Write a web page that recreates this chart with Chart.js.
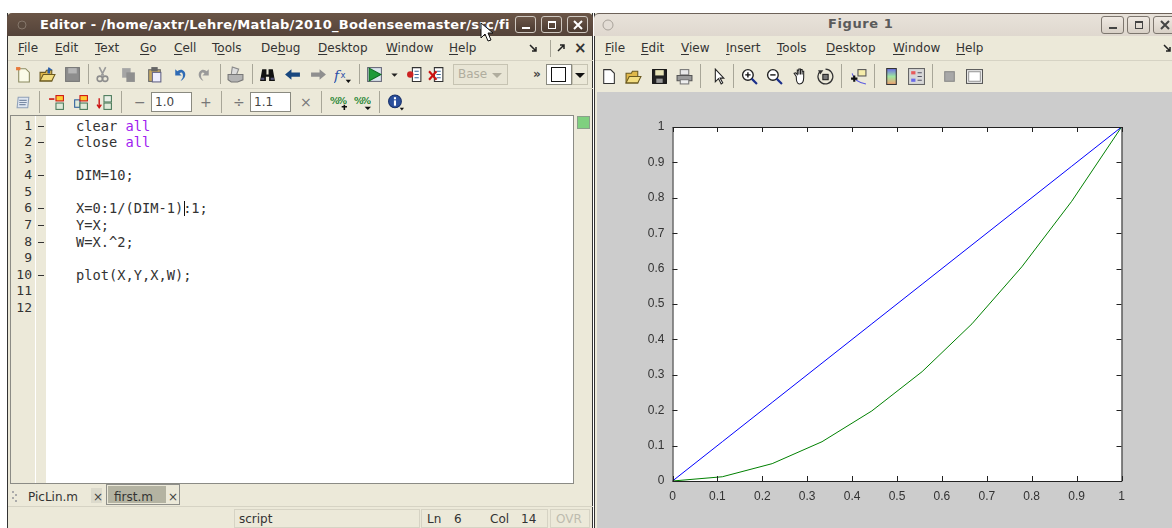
<!DOCTYPE html>
<html>
<head>
<meta charset="utf-8">
<title>Editor and Figure 1</title>
<script src="https://cdn.jsdelivr.net/npm/chart.js@4"></script>
<style>
  html, body { margin: 0; padding: 0; background: #fff; overflow: hidden; }
  #app { position: relative; width: 1172px; height: 528px; overflow: hidden; font-family: "DejaVu Sans", sans-serif; color: #2e2e2e; filter: blur(0.3px); }
  #app div, #app span { position: absolute; white-space: pre; }
  #app u { text-decoration: underline; text-underline-offset: 2px; }
  #app svg { position: absolute; }
  .menu { font-size: 12px; line-height: 14px; top: 41px; color: #333; }
  .code { font-family: "DejaVu Sans Mono", monospace; font-size: 13.7px; line-height: 16px; left: 76px; color: #333; }
  .num { font-family: "DejaVu Sans Mono", monospace; font-size: 13px; line-height: 16px; width: 24px; left: 8px; text-align: right; color: #333; }
  .kw { position: static !important; color: #a020f0; }
  .tb { font-size: 12px; line-height: 16px; color: #444; }
  #plot-wrap { left: 597px; top: 92px; width: 575px; height: 436px; }
</style>
</head>
<body>
<div id="app"></div>
<script>
// values
const X = [0, 0.111, 0.222, 0.333, 0.444, 0.556, 0.667, 0.778, 0.889, 1];
const Y = [0, 0.111, 0.222, 0.333, 0.444, 0.556, 0.667, 0.778, 0.889, 1];
const W = [0, 0.012, 0.049, 0.111, 0.198, 0.309, 0.444, 0.605, 0.79, 1];
const xTickLabels = ["0", "0.1", "0.2", "0.3", "0.4", "0.5", "0.6", "0.7", "0.8", "0.9", "1"];
const yTickLabels = ["0", "0.1", "0.2", "0.3", "0.4", "0.5", "0.6", "0.7", "0.8", "0.9", "1"];

const editorMenus = [["<u>F</u>ile", 18], ["<u>E</u>dit", 55], ["<u>T</u>ext", 95], ["<u>G</u>o", 140], ["<u>C</u>ell", 174], ["T<u>o</u>ols", 212], ["De<u>b</u>ug", 261], ["<u>D</u>esktop", 318], ["<u>W</u>indow", 386], ["<u>H</u>elp", 449]];
const figureMenus = [["<u>F</u>ile", 605], ["<u>E</u>dit", 641], ["<u>V</u>iew", 681], ["<u>I</u>nsert", 726], ["<u>T</u>ools", 777], ["<u>D</u>esktop", 826], ["<u>W</u>indow", 893], ["<u>H</u>elp", 956]];
const codeLines = [
  'clear <span class="kw">all</span>',
  'close <span class="kw">all</span>',
  "",
  "DIM=10;",
  "",
  "X=0:1/(DIM-1):1;",
  "Y=X;",
  "W=X.^2;",
  "",
  "plot(X,Y,X,W);",
  "",
  ""
];
const executableLines = [1, 2, 4, 6, 7, 8, 10];

const app = document.getElementById("app");

function box(x, y, w, h, style, html) {
  const el = document.createElement("div");
  el.style.cssText = `left:${x}px;top:${y}px;width:${w}px;height:${h}px;${style || ""}`;
  if (html) el.innerHTML = html;
  app.appendChild(el);
  return el;
}

function text(x, y, str, cls, style) {
  const el = document.createElement("div");
  el.className = cls || "";
  el.style.cssText = `left:${x}px;top:${y}px;${style || ""}`;
  el.innerHTML = str;
  app.appendChild(el);
  return el;
}

// cx, cy is the icon's centre, the svg viewBox is 16x16
function icon(cx, cy, inner, size) {
  const s = size || 17;
  const holder = document.createElement("div");
  holder.style.cssText = `left:${cx - s / 2}px;top:${cy - s / 2}px;width:${s}px;height:${s}px;`;
  holder.innerHTML = `<svg width="${s}" height="${s}" viewBox="0 0 16 16" style="left:0;top:0">${inner}</svg>`;
  app.appendChild(holder);
}

function sep(x, y, h) {
  box(x, y, 1, h, "background:#a8a698;");
}

function winButton(x, y, w, h, glyph, dark) {
  const bg = dark ? "linear-gradient(#6b5648,#4a3a30)" : "linear-gradient(#efe9e2,#d8d0c6)";
  const line = dark ? "#cfc8c0" : "#7d766e";
  box(x, y, w, h, `background:${bg};border:1px solid ${line};border-radius:3px;box-sizing:border-box;`);
  const fg = dark ? "#fff" : "#444";
  const cx = x + w / 2, cy = y + h / 2;
  if (glyph === "min") icon(cx, cy, `<rect x="4" y="10" width="8" height="2" fill="${fg}"/>`, 16);
  if (glyph === "max") icon(cx, cy, `<rect x="4.5" y="4.5" width="7" height="7" fill="none" stroke="${fg}"/><rect x="4" y="4" width="8" height="2" fill="${fg}"/>`, 16);
  if (glyph === "close") icon(cx, cy, `<path d="M4 4L12 12M12 4L4 12" stroke="${fg}" stroke-width="2"/>`, 16);
}

const ICONS = {
  page: '<path d="M3.5 1.5H10L13.5 5V14.5H3.5Z" fill="#fff" stroke="#333"/>',
  pageNew: '<path d="M3.5 2.5H10L13.5 6V15H3.5Z" fill="#fbfbe8" stroke="#8a8a60"/><rect x="1" y="1" width="4" height="3" fill="#e8793a"/>',
  open: '<path d="M1 5H6L7 3H12V14H1Z" fill="#e0b84a" stroke="#6b5a20"/><path d="M1 14L4 8H15L12 14Z" fill="#f3dd80" stroke="#6b5a20"/>',
  openBlue: '<path d="M1 6H6L7 4H12V14H1Z" fill="#e0b84a" stroke="#6b5a20"/><path d="M1 14L4 8H15L12 14Z" fill="#f3dd80" stroke="#6b5a20"/><path d="M9 1L13 4H10.500V7H8V4Z" fill="#2b5fa8"/>',
  saveGrey: '<rect x="1.500" y="1.500" width="13" height="13" fill="#8d8d8d" stroke="#777"/><rect x="4" y="2" width="8" height="5" fill="#b5b5b5"/>',
  save: '<rect x="1.500" y="1.500" width="13" height="13" fill="#222" stroke="#111"/><rect x="4" y="2" width="8" height="5" fill="#e8e4b8"/><rect x="5" y="10" width="6" height="4" fill="#999"/>',
  cut: '<path d="M5 1L9 9M11 1L7 9" stroke="#9a9a9a" stroke-width="1.500"/><circle cx="5.500" cy="12" r="2.500" fill="none" stroke="#8d8d8d" stroke-width="1.500"/><circle cx="10.500" cy="12" r="2.500" fill="none" stroke="#8d8d8d" stroke-width="1.500"/>',
  copy: '<rect x="2" y="2" width="8" height="9" fill="#a5a5a5"/><rect x="6" y="6" width="8" height="9" fill="#8f8f8f"/>',
  paste: '<rect x="2.500" y="3.500" width="11" height="11" fill="#c6a860" stroke="#6b6b6b"/><rect x="5" y="1" width="6" height="4" fill="#666"/><rect x="6" y="6" width="8" height="9" fill="#eef" stroke="#668"/>',
  undo: '<path d="M4 3V9H10L8 7C10 5 12 7 11 11L9 14C14 12 15 6 11 4C9 3 7 4 6 5Z" fill="#2f6bb5"/>',
  redo: '<path d="M12 3V9H6L8 7C6 5 4 7 5 11L7 14C2 12 1 6 5 4C7 3 9 4 10 5Z" fill="#9a9a9a"/>',
  print: '<rect x="4" y="1.500" width="8" height="5" fill="#e8e8e8" stroke="#777"/><path d="M1 7H15V12H1Z" fill="#9a9a9a" stroke="#555"/><rect x="4" y="11" width="8" height="4" fill="#eee" stroke="#777"/>',
  printFaded: '<path d="M5 1L11 3L9 8H4Z" fill="#ddd" stroke="#888"/><path d="M1 8H15V13L10 15H4L1 13Z" fill="#b4b4b4" stroke="#777"/>',
  binoculars: '<path d="M1 14L3 3H7V8H9V3H13L15 14H9.500V10H6.500V14Z" fill="#111"/><rect x="2" y="11" width="3" height="2" fill="#557"/><rect x="11" y="11" width="3" height="2" fill="#557"/>',
  back: '<path d="M1 8L7 3V6H15V10H7V13Z" fill="#18477f"/>',
  fwd: '<path d="M15 8L9 3V6H1V10H9V13Z" fill="#8f8f8f"/>',
  fx: '<text x="0" y="13" font-family="DejaVu Serif" font-style="italic" font-size="13" fill="#2c4fa8">f</text><text x="6" y="11" font-family="DejaVu Sans" font-size="8" fill="#2c4fa8">x</text><path d="M11 13L16 13L13.500 16Z" fill="#111"/>',
  run: '<rect x="1.500" y="1.500" width="13" height="13" fill="#dce6ee" stroke="#667"/><path d="M3 2L14 8L3 14Z" fill="#1f9a3a" stroke="#0d6a20"/>',
  drop: '<path d="M5 7H11L8 10Z" fill="#222"/>',
  bpSet: '<path d="M6 1.500H14V14.500H6Z" fill="#fff" stroke="#333"/><path d="M8 5H12M8 8H12M8 11H12" stroke="#3a6a9a"/><circle cx="4" cy="8" r="3" fill="#c22"/>',
  bpClear: '<path d="M6 1.500H14V14.500H6Z" fill="#fff" stroke="#333"/><path d="M8 5H12M8 8H12M8 11H12" stroke="#3a6a9a"/><path d="M1 5L8 13M8 5L1 13" stroke="#c11" stroke-width="2"/>',
  comment: '<path d="M3 3H13L12 13H2Z" fill="#dfe6f0" stroke="#8fa0b8"/><path d="M4 6H11M4 8H11M4 10H10" stroke="#7a8ba5"/>',
  cellA: '<rect x="1" y="4" width="5" height="1.500" fill="#c11"/><rect x="7.500" y="1.500" width="7" height="5" fill="#fc3" stroke="#c11"/><rect x="7.500" y="8.500" width="7" height="6" fill="#dfe9d8" stroke="#4a7a5a"/>',
  cellB: '<rect x="2.500" y="5.500" width="5" height="7" fill="#dfe9d8" stroke="#2c5f9c"/><rect x="7.500" y="1.500" width="7" height="5" fill="#fc3" stroke="#c11"/><rect x="7.500" y="8.500" width="7" height="6" fill="#dfe9d8" stroke="#4a7a5a"/>',
  cellC: '<path d="M3 4V12M1 10L3 13L5 10" stroke="#c11" fill="none" stroke-width="1.300"/><rect x="7.500" y="1.500" width="7" height="6" fill="#e8efe6" stroke="#4a7a5a"/><rect x="7.500" y="8.500" width="7" height="6" fill="#dfe9d8" stroke="#4a7a5a"/>',
  pctPlus: '<text x="0" y="9" font-family="DejaVu Sans" font-weight="bold" font-size="9" fill="#2f8a3a">%</text><text x="7" y="9" font-family="DejaVu Sans" font-weight="bold" font-size="9" fill="#2f8a3a">%</text><path d="M11 12H16M13.500 10V15" stroke="#111" stroke-width="1.500"/>',
  pctDrop: '<text x="0" y="9" font-family="DejaVu Sans" font-weight="bold" font-size="9" fill="#2f8a3a">%</text><text x="7" y="9" font-family="DejaVu Sans" font-weight="bold" font-size="9" fill="#2f8a3a">%</text><path d="M10 12H16L13 15Z" fill="#111"/>',
  info: '<circle cx="7.500" cy="7" r="6" fill="#2a4f9c" stroke="#17306a"/><rect x="6.500" y="6" width="2" height="5" fill="#fff"/><rect x="6.500" y="3" width="2" height="2" fill="#fff"/><path d="M12 13H16L14 15.500Z" fill="#111"/>',
  pointer: '<path d="M5 1V13L8 10L10.500 15L12 14L9.500 9.500H13Z" fill="#fff" stroke="#222"/>',
  zoomIn: '<circle cx="6.500" cy="6.500" r="5" fill="#fff" stroke="#222" stroke-width="1.300"/><path d="M4 6.500H9M6.500 4V9" stroke="#111" stroke-width="1.300"/><path d="M10 10L15 15" stroke="#1a2f8a" stroke-width="2"/>',
  zoomOut: '<circle cx="6.500" cy="6.500" r="5" fill="#fff" stroke="#222" stroke-width="1.300"/><path d="M4 6.500H9" stroke="#111" stroke-width="1.300"/><path d="M10 10L15 15" stroke="#1a2f8a" stroke-width="2"/>',
  hand: '<path d="M4 8L2 5L3.500 4.500L5 6V2H6.500V6V1H8V6V1.500H9.500V6V3H11V9C11 12 10 15 7 15C5 15 4 12 4 8Z" fill="#fff" stroke="#222"/>',
  rotate: '<path d="M3 3A7 7 0 1 0 8 1" fill="none" stroke="#333" stroke-width="1.200"/><path d="M1 2L6 2L3 6Z" fill="#333"/><rect x="5.500" y="6" width="5" height="5" fill="#777" stroke="#222"/>',
  datatip: '<rect x="7.500" y="1.500" width="7.500" height="6" fill="#f5ecaa" stroke="#555"/><path d="M2 5Q4 13 15 15" fill="none" stroke="#5a5ae0"/><path d="M1 10H7M4 7V13" stroke="#111" stroke-width="2"/>',
  colorbar: '<defs><linearGradient id="cb" x1="0" y1="0" x2="0" y2="1"><stop offset="0" stop-color="#6a6ae8"/><stop offset=".5" stop-color="#9fe6a0"/><stop offset="1" stop-color="#f2a070"/></linearGradient></defs><rect x="3.500" y="0.500" width="9" height="15" fill="url(#cb)" stroke="#333"/>',
  legend: '<rect x="0.500" y="0.500" width="15" height="15" fill="#d8d8d8" stroke="#666"/><rect x="3" y="3" width="4" height="3" fill="#e85a5a"/><rect x="3" y="10" width="4" height="3" fill="#6a6ae8"/><path d="M9 4.500H13M9 11.500H13M9 8H13" stroke="#556"/>',
  greyBox: '<rect x="3.500" y="3.500" width="9" height="9" fill="#a8a8a8" stroke="#888"/>',
  frame: '<rect x="0.500" y="1.500" width="15" height="13" fill="#f2f2f2" stroke="#555"/><rect x="2.500" y="3.500" width="11" height="9" fill="#fff" stroke="#999"/>'
};

// window backgrounds
const CREAM = "#ece9d9";
box(7, 13, 586, 515, `background:${CREAM};border-left:1px solid #333;border-right:1px solid #333;box-sizing:border-box;`);
box(7, 13, 586, 23, "background:linear-gradient(#6a5546,#54433a);border-radius:5px 5px 0 0;");
box(593, 13, 2, 515, "background:#fff;");
box(594, 13, 578, 515, `background:${CREAM};border-left:1px solid #333;box-sizing:border-box;`);
box(594, 13, 578, 23, "background:linear-gradient(#e8e2da,#dfd8cf);border-top:1px solid #6d6259;box-sizing:border-box;border-radius:5px 0 0 0;");

// editor title bar
box(15, 16, 498, 20, "overflow:hidden;", '<span style="left:25px;top:1px;color:#fff;font:bold 13px \'DejaVu Sans\';letter-spacing:.3px">Editor - /home/axtr/Lehre/Matlab/2010_Bodenseemaster/src/fi</span>');
icon(22, 25, '<circle cx="8" cy="8" r="4" fill="#5b4a3e" stroke="#85766a"/>', 16);
winButton(515, 16, 21, 17, "min", true);
winButton(541, 16, 21, 17, "max", true);
winButton(567, 16, 21, 17, "close", true);

// figure title bar
text(828, 16, "Figure 1", "", "font:bold 13px 'DejaVu Sans';line-height:16px;color:#5a5a5a;letter-spacing:.6px");
icon(608, 25, '<circle cx="8" cy="8" r="5" fill="#e3ddd5" stroke="#a8a29a"/>', 16);
winButton(1101, 16, 23, 18, "min", false);
winButton(1127, 16, 23, 18, "max", false);
winButton(1153, 16, 23, 18, "close", false);

// menus
editorMenus.forEach(([label, x]) => text(x, 41, label, "menu"));
figureMenus.forEach(([label, x]) => text(x, 41, label, "menu"));
icon(534, 48, '<path d="M4 5L10 11M10 7V11H6" stroke="#222" stroke-width="1.500" fill="none"/>', 16);
sep(550, 40, 17);
icon(561, 48, '<path d="M11 5L5 11M7 5H11V9" stroke="#222" stroke-width="1.500" fill="none"/>', 16);
text(574, 41, "×", "menu", "font-size:15px;font-weight:bold");
icon(1168, 48, '<path d="M4 5L10 11M10 7V11H6" stroke="#222" stroke-width="1.500" fill="none"/>', 16);

// toolbar borders
box(8, 60, 585, 1, "background:#d6d3c4;");
box(8, 88, 585, 1, "background:#d6d3c4;");
box(595, 60, 577, 1, "background:#d6d3c4;");

// editor toolbar 1
[[23, "pageNew"], [47, "openBlue"], [72, "saveGrey"], [102, "cut"], [128, "copy"], [154, "paste"], [179, "undo"], [204, "redo"], [235, "printFaded"], [267, "binoculars"], [292, "back"], [318, "fwd"], [342, "fx"], [374, "run"], [394, "drop"], [414, "bpSet"], [436, "bpClear"]]
  .forEach(([x, name]) => icon(x, 74, ICONS[name]));
[88, 220, 252, 359].forEach((x) => sep(x, 64, 20));
box(453, 64, 55, 21, "border:1px solid #c6c3b2;box-sizing:border-box;background:#e8e5d5;");
text(458, 66, "Base", "tb", "color:#b0ad9e");
icon(497, 75, '<path d="M3 6H13L8 11Z" fill="#b0ad9e"/>', 16);
text(533, 66, "»", "tb", "font-weight:bold;font-size:12px");
box(546, 64, 26, 21, "background:#fff;border:1px solid #8a8a80;box-sizing:border-box;");
box(551, 67, 15, 15, "border:1.500px solid #111;box-sizing:border-box;background:#fff;");
box(572, 64, 16, 21, "border:1px solid #c6c3b2;box-sizing:border-box;");
icon(580, 75, '<path d="M3 6H13L8 11Z" fill="#111"/>', 16);

// editor toolbar 2
[[23, "comment"], [56, "cellA"], [80, "cellB"], [104, "cellC"], [338, "pctPlus"], [362, "pctDrop"], [395, "info"]]
  .forEach(([x, name]) => icon(x, 102, ICONS[name]));
[39, 121, 221, 321, 379].forEach((x) => sep(x, 91, 22));
text(134, 94, "−", "tb", "font-size:14px;color:#777");
box(151, 92, 41, 20, "background:#fff;border:1px solid #8a8a80;box-sizing:border-box;");
text(155, 94, "1.0", "tb");
text(200, 94, "+", "tb", "font-size:14px;color:#777");
text(233, 94, "÷", "tb", "font-size:14px;color:#777");
box(250, 92, 41, 20, "background:#fff;border:1px solid #8a8a80;box-sizing:border-box;");
text(254, 94, "1.1", "tb");
text(300, 94, "×", "tb", "font-size:14px;color:#777");

// editor pane
box(10, 115, 564, 369, "background:#fff;border:1px solid #8b8b85;box-sizing:border-box;");
box(11, 116, 35, 367, `background:${CREAM};`);
box(35, 116, 1, 367, "background:#fff;");
codeLines.forEach((line, i) => {
  const top = 117.7 + i * 16.55;
  text(8, top, String(i + 1), "num");
  if (executableLines.includes(i + 1)) box(38, top + 8, 6, 1, "background:#333;");
  if (line) text(76, top, line, "code");
});
box(184, 201, 1, 15, "background:#111;");
box(577, 116, 13, 13, "background:#7fd07f;border:1px solid #8aa08a;box-sizing:border-box;");

// tabs and status bar
icon(15, 496, '<path d="M6 3V5M9 6V8M6 9V11M9 12V14" stroke="#aaa" stroke-width="2"/>', 16);
text(28, 489, "PicLin.m", "tb", "color:#333");
box(91, 488, 11, 15, "background:#dcdacc;");
text(93, 489, "×", "tb");
box(106, 484, 74, 21, "border:1px solid #8f8f8a;box-sizing:border-box;");
box(108, 486, 58, 17, "background:#b4b3a2;");
text(114, 489, "first.m", "tb", "color:#333");
text(168, 489, "×", "tb");
box(8, 506, 585, 1, "background:#d6d3c4;");
box(234, 509, 186, 19, "border:1px solid #d6d3c4;box-sizing:border-box;");
text(239, 511, "script", "tb", "color:#333");
box(421, 509, 127, 19, "border:1px solid #d6d3c4;box-sizing:border-box;");
text(427, 511, "Ln", "tb", "color:#333");
text(454, 511, "6", "tb", "color:#333");
text(490, 511, "Col", "tb", "color:#333");
text(521, 511, "14", "tb", "color:#333");
box(550, 509, 40, 19, "border:1px solid #d6d3c4;box-sizing:border-box;");
text(556, 511, "OVR", "tb", "color:#bdbbae");

// figure toolbar
[[608, "page"], [633, "open"], [659, "save"], [684, "print"], [718, "pointer"], [749, "zoomIn"], [774, "zoomOut"], [800, "hand"], [825, "rotate"], [858, "datatip"], [891, "colorbar"], [916, "legend"], [949, "greyBox"], [974, "frame"]]
  .forEach(([x, name]) => icon(x, 76, ICONS[name]));
[700, 733, 841, 874, 932].forEach((x) => sep(x, 64, 24));

// mouse pointer over the title bar
const cursor = document.createElement("div");
cursor.style.cssText = "left:480px;top:22px;width:16px;height:22px;z-index:5;";
cursor.innerHTML = '<svg width="16" height="22" viewBox="0 0 16 22" style="left:0;top:0"><path d="M1 1V16L5 12L8 19L11 18L8 11H13Z" fill="#fff" stroke="#111"/></svg>';
app.appendChild(cursor);

// plot
const plotWrap = box(597, 92, 575, 436, "background:#ccc;");
plotWrap.id = "plot-wrap";
plotWrap.innerHTML = '<canvas id="plot" width="575" height="436"></canvas>';

// matlab draws inward ticks on all four sides, chart.js has no option for that
const matlabBox = {
  id: "matlabBox",
  afterDatasetsDraw(chart) {
    const { ctx, chartArea: a, scales } = chart;
    ctx.save();
    ctx.strokeStyle = "#222";
    ctx.lineWidth = 1;
    ctx.beginPath();
    ctx.rect(a.left + 0.5, a.top + 0.5, a.right - a.left, a.bottom - a.top);
    scales.x.ticks.forEach((t) => {
      const px = Math.round(scales.x.getPixelForValue(t.value)) + 0.5;
      ctx.moveTo(px, a.top);
      ctx.lineTo(px, a.top + 5);
      ctx.moveTo(px, a.bottom);
      ctx.lineTo(px, a.bottom - 5);
    });
    scales.y.ticks.forEach((t) => {
      const py = Math.round(scales.y.getPixelForValue(t.value)) + 0.5;
      ctx.moveTo(a.left, py);
      ctx.lineTo(a.left + 5, py);
      ctx.moveTo(a.right, py);
      ctx.lineTo(a.right - 5, py);
    });
    ctx.stroke();
    ctx.restore();
  }
};

const tickFont = { family: "'Liberation Sans', sans-serif", size: 12 };

new Chart(document.getElementById("plot"), {
  type: "line",
  data: {
    datasets: [
      { data: X.map((x, i) => ({ x, y: Y[i] })), borderColor: "#0000ff", borderWidth: 1, pointRadius: 0, tension: 0 },
      { data: X.map((x, i) => ({ x, y: W[i] })), borderColor: "#008000", borderWidth: 1, pointRadius: 0, tension: 0 }
    ]
  },
  options: {
    responsive: false,
    animation: false,
    devicePixelRatio: 1,
    layout: { padding: { left: 35.5, right: 50.5, top: 35, bottom: 17 } },
    plugins: {
      legend: { display: false },
      tooltip: { enabled: false }
    },
    scales: {
      x: {
        type: "linear",
        min: 0,
        max: 1,
        afterFit: (s) => { s.height = 30; },
        grid: { display: false },
        border: { display: false },
        ticks: {
          stepSize: 0.1,
          color: "#333",
          font: tickFont,
          padding: 0,
          maxRotation: 0,
          autoSkip: false,
          callback: (v, i) => xTickLabels[i]
        }
      },
      y: {
        min: 0,
        max: 1,
        afterFit: (s) => { s.width = 40; },
        grid: { display: false },
        border: { display: false },
        ticks: {
          stepSize: 0.1,
          color: "#333",
          font: tickFont,
          padding: 0,
          autoSkip: false,
          callback: (v, i) => yTickLabels[i]
        }
      }
    }
  },
  plugins: [
    {
      id: "plotBackground",
      beforeDraw(chart) {
        const { ctx, chartArea: a } = chart;
        ctx.fillStyle = "#fff";
        ctx.fillRect(a.left, a.top, a.right - a.left, a.bottom - a.top);
      }
    },
    matlabBox
  ]
});
</script>
</body>
</html>
